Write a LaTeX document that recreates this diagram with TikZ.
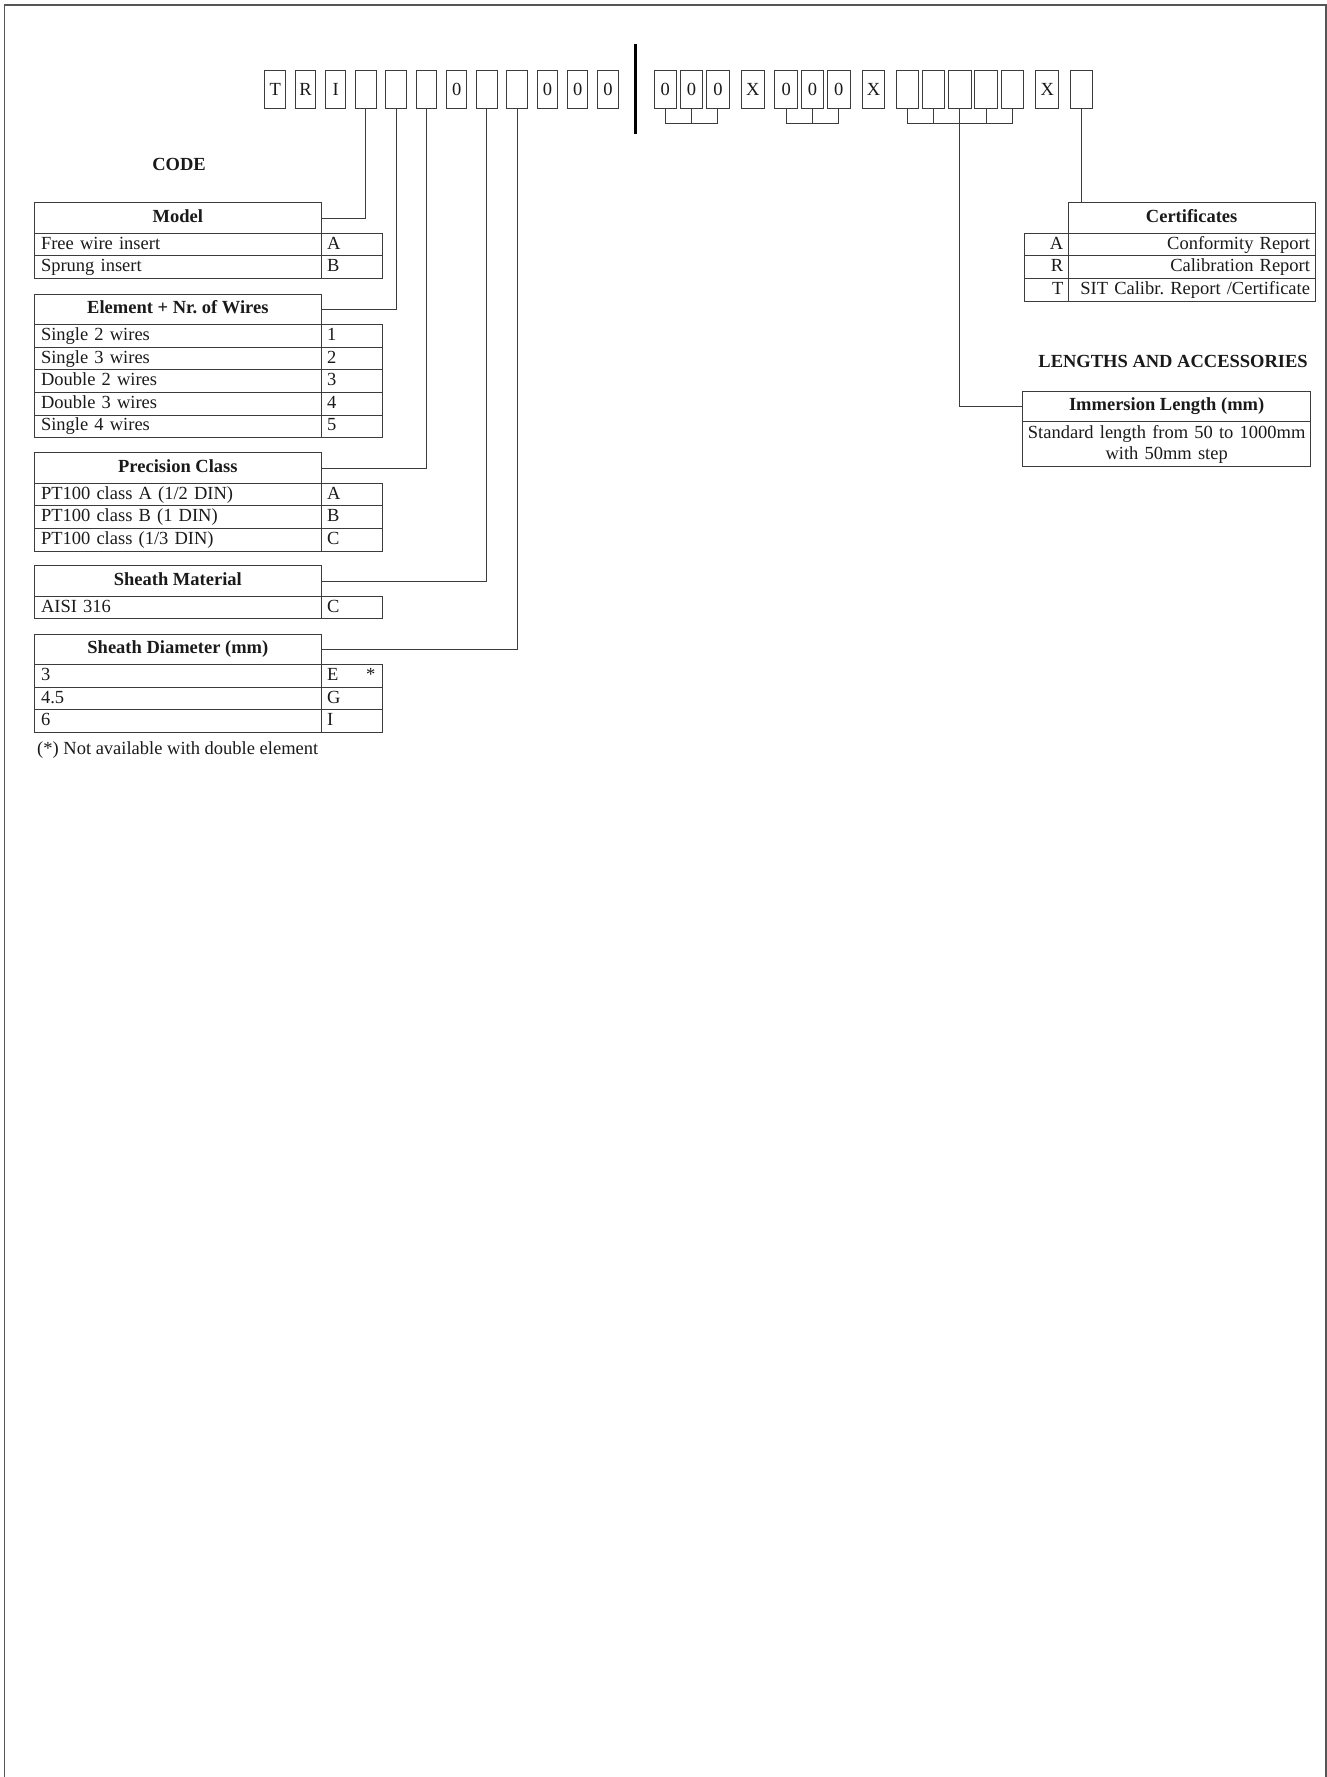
\documentclass[tikz,border=0pt]{standalone}
\usepackage{fontspec}
\setmainfont{Liberation Serif}
\definecolor{linec}{HTML}{3C3C3C}
\definecolor{framec}{HTML}{555555}
\definecolor{txtc}{HTML}{1A1A1A}
\newcommand\optsize{\fontsize{18.5}{21}\selectfont}
\newcommand\opttab[4]{%
  \node[hdr,anchor=north west] (#1) at (34,#2) {#3};
  \foreach \lab/\val [count=\i] in {#4}{%
    \node[lcell,anchor=north west] (#1l\i) at (34,{#2+30.6+22.6*(\i-1)}) {\lab};
    \node[vcell,anchor=north west] (#1v\i) at (321.7,{#2+30.6+22.6*(\i-1)}) {\val};
  }%
}
\begin{document}
\frenchspacing
\begin{tikzpicture}[x=1pt,y=-1pt,font=\optsize,text=txtc,
  tline/.style={draw=linec,line width=1pt},
  conn/.style={draw=linec,line width=1pt},
  lbox/.style={tline,outer sep=0,inner sep=0,minimum width=20.5,minimum height=37.6,text height=12.2,text depth=0},
  rbox/.style={lbox,minimum width=22.5},
  hdr/.style={tline,outer sep=0,inner xsep=0,inner ysep=0,minimum width=287.7,minimum height=30.6,
    text height=13,text depth=4,font=\optsize\bfseries,align=center},
  lcell/.style={tline,outer sep=0,inner xsep=7,inner ysep=0,text width=273.7,align=left,
    minimum height=22.6,text height=13,text depth=4},
  vcell/.style={tline,outer sep=0,inner xsep=5.5,inner ysep=0,text width=49.3,align=left,
    minimum height=22.6,text height=13,text depth=4},
  chdr/.style={hdr,minimum width=246.7},
  ccode/.style={lcell,inner xsep=5,text width=34.3,align=right},
  cdesc/.style={lcell,inner xsep=5,text width=236.7,align=right},
  ihdr/.style={hdr,minimum width=288.3},
  ibody/.style={tline,outer sep=0,inner xsep=3,inner ysep=0,text width=282.3,align=center,minimum height=45.1}
]
\useasboundingbox (0,0) rectangle (1327,1777);
% outer frame (open at bottom)
\draw[framec,line width=1.5pt] (4.7,1777) -- (4.7,5) -- (1326,5) -- (1326,1777);

% left code boxes
\foreach \t [count=\i] in {T,R,I,{},{},{},0,{},{},0,0,0}
  \node[lbox] (b\i) at ({275.2+30.25*(\i-1)},89.5) {\t};
% separator bar
\draw[line width=3pt,black] (635.7,44) -- (635.7,134);
% right code boxes
\foreach \xx/\t [count=\i] in {665.3/0,691.6/0,717.9/0,752.9/X,786.2/0,812.5/0,838.8/0,873.6/X,
    907.3/{},933.6/{},959.9/{},986.2/{},1012.5/{},1047.2/X,1081.5/{}}
  \node[rbox] (c\i) at (\xx,89.5) {\t};
% brackets under groups
\foreach \a/\b in {1/3,5/7,9/13}
  \draw[conn] (c\a.south) -- ++(0,15) -| (c\b.south);
\foreach \m in {2,6,10,12}
  \draw[conn] (c\m.south) -- ++(0,15);

% titles
\node[font=\optsize\bfseries,anchor=base,inner sep=0] (code) at (179,170.7) {CODE};
\node[font=\optsize\bfseries,anchor=base east,inner sep=0] (lenacc) at (1308,367) {LENGTHS AND ACCESSORIES};

% option tables (left)
\opttab{model}{202.7}{Model}{Free wire insert/A,Sprung insert/B}
\opttab{elem}{294}{Element + Nr. of Wires}{Single 2 wires/1,Single 3 wires/2,Double 2 wires/3,Double 3 wires/4,Single 4 wires/5}
\opttab{prec}{452.7}{Precision Class}{{PT100 class A (1/2 DIN)}/A,{PT100 class B (1 DIN)}/B,{PT100 class (1/3 DIN)}/C}
\opttab{mat}{565.7}{Sheath Material}{AISI 316/C}
\opttab{diam}{634}{Sheath Diameter (mm)}{3/{E\hfill*\hspace*{1pt}},4.5/G,6/I}
\node[anchor=base west,inner sep=0] (foot) at (37,754) {(*) Not available with double element};

% certificates
\node[chdr,anchor=north west] (cert) at (1068.3,202.7) {Certificates};
\foreach \c/\d [count=\i] in {A/Conformity Report,R/Calibration Report,T/{SIT Calibr. Report /Certificate}}{
  \node[ccode,anchor=north west] (certc\i) at (1024,{233.3+22.6*(\i-1)}) {\c};
  \node[cdesc,anchor=north west] (certd\i) at (1068.3,{233.3+22.6*(\i-1)}) {\d};
}

% immersion length
\node[ihdr,anchor=north west] (imm) at (1022.5,391) {Immersion Length (mm)};
\node[ibody,anchor=north west] (immb) at (1022.5,421.6) {Standard length from 50 to 1000mm\\with 50mm step};

% connectors
\draw[conn] (b4.south) |- (model.east);
\draw[conn] (b5.south) |- (elem.east);
\draw[conn] (b6.south) |- (prec.east);
\draw[conn] (b8.south) |- (mat.east);
\draw[conn] (b9.south) |- (diam.east);
\draw[conn] (c11.south) |- (imm.west);
\draw[conn] (c15.south) -- (c15.south |- cert.north);
\end{tikzpicture}
\end{document}
